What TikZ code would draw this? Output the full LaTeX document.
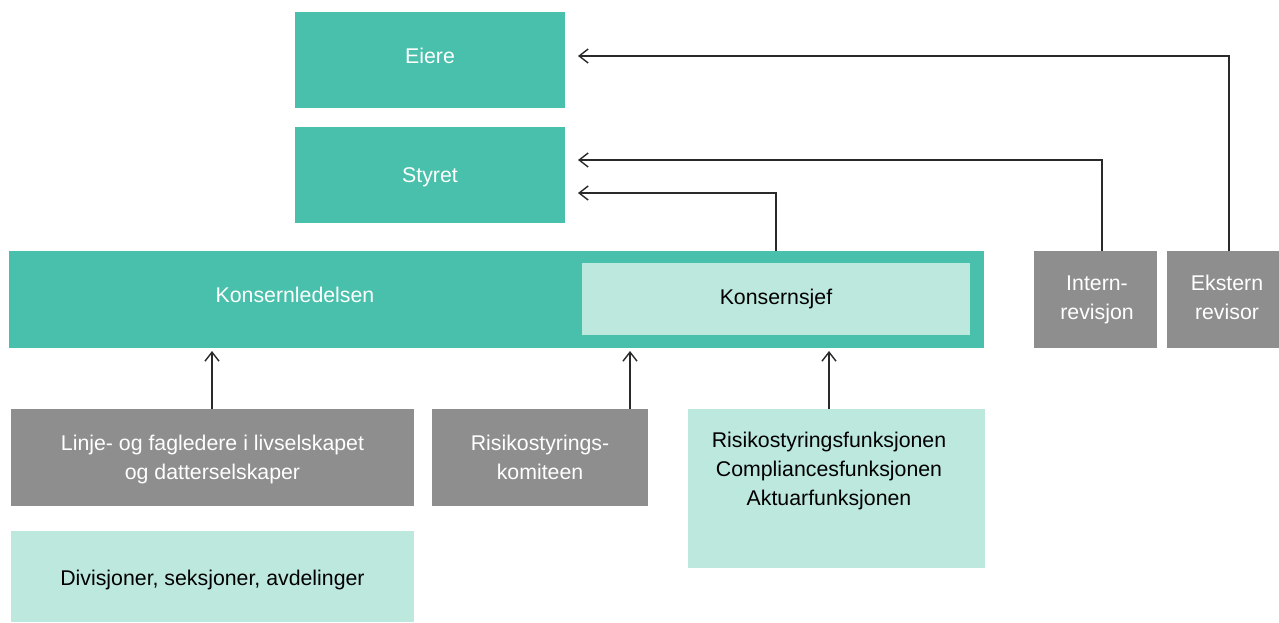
\documentclass[tikz,border=0pt]{standalone}
\usepackage{fontspec}
\setmainfont{Liberation Sans}
\usetikzlibrary{arrows.meta}
\definecolor{teal}{HTML}{48C0AB}
\definecolor{mint}{HTML}{BCE8DD}
\definecolor{greybox}{HTML}{8E8E8E}
\definecolor{linec}{HTML}{2A2A2A}
\tikzset{
  box/.style={inner sep=0pt, outer sep=0pt, anchor=north west},
  tealbox/.style={box, fill=teal},
  mintbox/.style={box, fill=mint},
  greyboxs/.style={box, fill=greybox},
  conn/.style={draw=linec, line width=1.4pt, -{Straight Barb[length=9pt,width=14pt,line width=1.4pt]}},
  lbl/.style={inner sep=0pt, align=center, font=\fontsize{21.3}{29}\selectfont},
  one/.style={lbl, anchor=base}
}
\begin{document}
\begin{tikzpicture}[x=1pt,y=-1pt]
\useasboundingbox (0,0) rectangle (1279,622);
% boxes
\node[tealbox, minimum width=270pt, minimum height=96pt] (eiere) at (295,12) {};
\node[one, text=white] (teiere) at (430,63.5) {Eiere};
\node[tealbox, minimum width=270pt, minimum height=96pt] (styret) at (295,127) {};
\node[one, text=white] (tstyret) at (430,182.5) {Styret};
\node[tealbox, minimum width=975pt, minimum height=97pt] (kl) at (9,251) {};
\node[one, text=white] (tkl) at (295,302.5) {Konsernledelsen};
\node[mintbox, minimum width=388pt, minimum height=72pt] (ks) at (582,263) {};
\node[one, text=black] (tks) at (776,304.5) {Konsernsjef};
\node[greyboxs, minimum width=123pt, minimum height=97pt] (ir) at (1034,251) {};
\node[lbl, text=white] (tir) at (1097,300) {Intern-\\revisjon};
\node[greyboxs, minimum width=112pt, minimum height=97pt] (er) at (1167,251) {};
\node[lbl, text=white] (ter) at (1227,297) {Ekstern\\revisor};
\node[greyboxs, minimum width=403pt, minimum height=97pt] (linje) at (11,409) {};
\node[lbl, text=white] (tlinje) at (212.5,459) {Linje- og fagledere i livselskapet\\og datterselskaper};
\node[greyboxs, minimum width=216pt, minimum height=97pt] (rk) at (432,409) {};
\node[lbl, text=white] (trk) at (540,457) {Risikostyrings-\\komiteen};
\node[mintbox, minimum width=297pt, minimum height=159pt] (rf) at (688,409) {};
\node[lbl, text=black] (trf) at (829,471) {Risikostyringsfunksjonen\\Compliancesfunksjonen\\Aktuarfunksjonen};
\node[mintbox, minimum width=403pt, minimum height=91pt] (div) at (11,531) {};
\node[one, text=black] (tdiv) at (212.5,585.5) {Divisjoner, seksjoner, avdelinger};
% connectors
\coordinate (e1) at (1229,56);
\coordinate (e2) at (578,56);
\draw[conn] (er.north -| e1) -- (e1) -- (e2);
\coordinate (s1) at (1102,160);
\coordinate (s2) at (578,160);
\draw[conn] (ir.north -| s1) -- (s1) -- (s2);
\coordinate (k1) at (776,193);
\coordinate (k2) at (578,193);
\draw[conn] (kl.north -| k1) -- (k1) -- (k2);
\coordinate (u1) at (212,351);
\draw[conn] (linje.north -| u1) -- (u1);
\coordinate (u2) at (630,351);
\draw[conn] (rk.north -| u2) -- (u2);
\coordinate (u3) at (829,351);
\draw[conn] (rf.north -| u3) -- (u3);
\end{tikzpicture}
\end{document}
